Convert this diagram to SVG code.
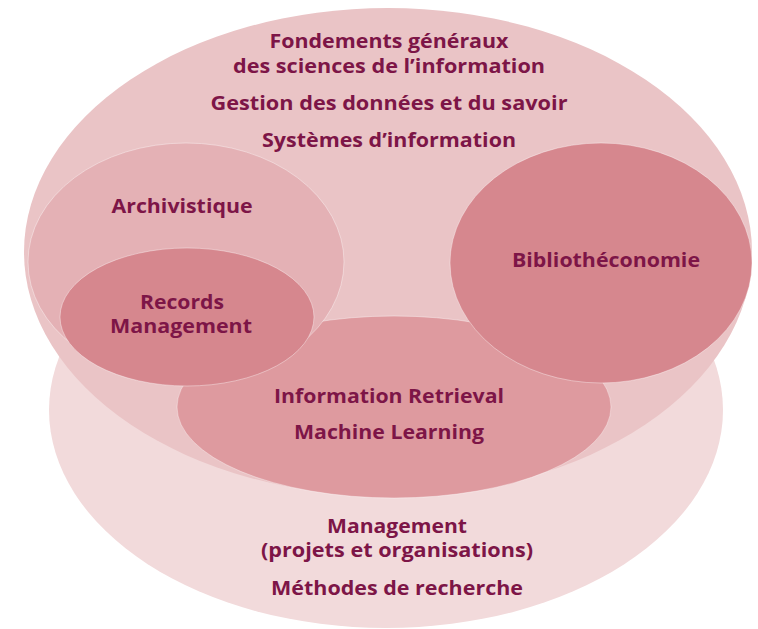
<svg xmlns="http://www.w3.org/2000/svg" width="758" height="629" viewBox="0 0 758 629">
<style>
.t{font-family:"Open Sans","Noto Sans","Liberation Sans",sans-serif;font-weight:700;font-size:19.5px;fill:#7d1547;text-anchor:middle}
.e{stroke:#ffffff;stroke-width:0.7;stroke-opacity:0.55}
</style>
<rect width="758" height="629" fill="#ffffff"/>
<g id="management">
<ellipse cx="386" cy="410" rx="337" ry="218" fill="#f2dadb"/>
<text class="t" x="397" y="533" textLength="140" lengthAdjust="spacingAndGlyphs">Management</text>
<text class="t" x="397" y="557" textLength="272" lengthAdjust="spacingAndGlyphs">(projets et organisations)</text>
<text class="t" x="397" y="595" textLength="252" lengthAdjust="spacingAndGlyphs">Méthodes de recherche</text>
</g>
<g id="fondements">
<ellipse cx="388" cy="252" rx="364" ry="244" fill="#eac4c6"/>
<text class="t" x="389" y="48" textLength="239" lengthAdjust="spacingAndGlyphs">Fondements généraux</text>
<text class="t" x="389" y="73" textLength="312" lengthAdjust="spacingAndGlyphs">des sciences de l’information</text>
<text class="t" x="389" y="110" textLength="357" lengthAdjust="spacingAndGlyphs">Gestion des données et du savoir</text>
<text class="t" x="389" y="147" textLength="254" lengthAdjust="spacingAndGlyphs">Systèmes d’information</text>
</g>
<g id="retrieval">
<ellipse class="e" cx="394" cy="407" rx="217" ry="91" fill="#de9a9f"/>
<text class="t" x="389" y="403" textLength="230" lengthAdjust="spacingAndGlyphs">Information Retrieval</text>
<text class="t" x="389" y="439" textLength="190" lengthAdjust="spacingAndGlyphs">Machine Learning</text>
</g>
<g id="archivistique">
<ellipse class="e" cx="186" cy="262" rx="158" ry="119" fill="#e4b1b5"/>
<text class="t" x="182" y="213" textLength="141" lengthAdjust="spacingAndGlyphs">Archivistique</text>
</g>
<g id="records">
<ellipse class="e" cx="187" cy="317" rx="127" ry="69" fill="#d6878e"/>
<text class="t" x="182" y="309" textLength="84" lengthAdjust="spacingAndGlyphs">Records</text>
<text class="t" x="181" y="333" textLength="142" lengthAdjust="spacingAndGlyphs">Management</text>
</g>
<g id="bibliotheconomie">
<ellipse class="e" cx="601" cy="263" rx="151" ry="120" fill="#d6878e"/>
<text class="t" x="606" y="267" textLength="188" lengthAdjust="spacingAndGlyphs">Bibliothéconomie</text>
</g>
<g id="connectors"/>
</svg>
